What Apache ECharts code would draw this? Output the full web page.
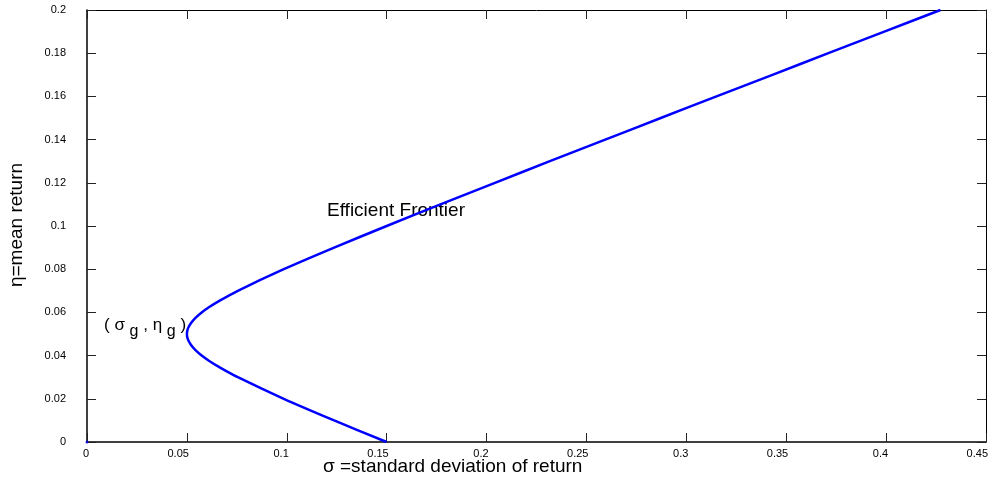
<!DOCTYPE html>
<html>
<head>
<meta charset="utf-8">
<script src="https://cdn.jsdelivr.net/npm/echarts@6/dist/echarts.min.js"></script>
<style>
  html, body { margin: 0; padding: 0; background: #fff; }
  #chart { width: 999px; height: 484px; }
</style>
</head>
<body>
<div id="chart"></div>
<script>
// Efficient frontier: standard deviation (sigma) vs. mean return (eta)
const etaValues = [0, 0.01, 0.02, 0.03, 0.035, 0.0375, 0.04, 0.0425, 0.045, 0.0475, 0.05,
  0.0525, 0.055, 0.0575, 0.06, 0.0625, 0.065, 0.07, 0.08, 0.09, 0.10, 0.11, 0.12, 0.13,
  0.14, 0.15, 0.16, 0.17, 0.18, 0.19, 0.20];
const sigmaValues = [0.150, 0.1237, 0.0985, 0.0755, 0.0656, 0.0612, 0.0574, 0.0543, 0.0520, 0.0505, 0.0500,
  0.0505, 0.0520, 0.0543, 0.0574, 0.0612, 0.0656, 0.0755, 0.0985, 0.1237, 0.150, 0.1769, 0.2042, 0.2317,
  0.2594, 0.2872, 0.3151, 0.3431, 0.3711, 0.3991, 0.4272];
const originPoint = [[0, 0]];

const xTicks = [0, 0.05, 0.1, 0.15, 0.2, 0.25, 0.3, 0.35, 0.4, 0.45];
const yTicks = [0, 0.02, 0.04, 0.06, 0.08, 0.1, 0.12, 0.14, 0.16, 0.18, 0.2];

const frontier = etaValues.map((e, i) => [sigmaValues[i], e]);

const font = 'Liberation Sans, Arial, sans-serif';
const chart = echarts.init(document.getElementById('chart'));

const fmt = v => String(+v.toFixed(2));

const baseX = {
  type: 'value', min: xTicks[0], max: xTicks[xTicks.length - 1], interval: 0.05,
  splitLine: { show: false },
  axisLine: { show: true, onZero: false, lineStyle: { color: '#000', width: 1.5 } },
  axisTick: { show: true, inside: true, length: 9, lineStyle: { color: '#222', width: 1 } }
};
const baseY = {
  type: 'value', min: yTicks[0], max: yTicks[yTicks.length - 1], interval: 0.02,
  splitLine: { show: false },
  axisLine: { show: true, onZero: false, lineStyle: { color: '#000', width: 1.5 } },
  axisTick: { show: true, inside: true, length: 9, lineStyle: { color: '#222', width: 1 } }
};

chart.setOption({
  animation: false,
  backgroundColor: '#fff',
  grid: { left: 87, right: 13, top: 10, bottom: 42, containLabel: false },
  xAxis: [
    Object.assign({}, baseX, {
      position: 'bottom',
      axisLabel: { show: true, color: '#000', fontFamily: font, fontSize: 11, margin: 6,
        align: 'right', padding: [0, -2, 0, 0], formatter: fmt }
    }),
    Object.assign({}, baseX, {
      position: 'top',
      axisLabel: { show: false },
      axisLine: { show: true, onZero: false, lineStyle: { color: '#000', width: 1 } }
    })
  ],
  yAxis: [
    Object.assign({}, baseY, {
      position: 'left',
      axisLabel: { show: true, color: '#000', fontFamily: font, fontSize: 11, margin: 21,
        formatter: fmt }
    }),
    Object.assign({}, baseY, {
      position: 'right',
      axisLabel: { show: false },
      axisLine: { show: true, onZero: false, lineStyle: { color: '#000', width: 1 } }
    })
  ],
  series: [
    {
      type: 'line',
      data: frontier,
      smooth: 0.3,
      showSymbol: false,
      lineStyle: { color: '#0000ff', width: 2.5 },
      xAxisIndex: 0, yAxisIndex: 0,
      z: 3
    },
    {
      type: 'scatter',
      data: originPoint,
      symbolSize: 3,
      itemStyle: { color: '#0000ff' },
      xAxisIndex: 0, yAxisIndex: 0
    }
  ],
  graphic: [
    {
      type: 'text', left: 323, top: 457,
      style: { text: 'σ =standard deviation of return', fontFamily: font, fontSize: 19, fill: '#000' }
    },
    {
      type: 'text', x: 17, y: 225, rotation: Math.PI / 2,
      style: { text: 'η=mean return', fontFamily: font, fontSize: 19, fill: '#000',
        align: 'center', verticalAlign: 'middle' }
    },
    {
      type: 'text', left: 327, top: 201,
      style: { text: 'Efficient Frontier', fontFamily: font, fontSize: 19, fill: '#000' }
    },
    {
      type: 'text', left: 104, top: 317,
      style: {
        text: '( σ {s|g} , η {s|g} )',
        fontFamily: font, fontSize: 17, fill: '#000',
        rich: { s: { fontFamily: font, fontSize: 16, fill: '#000', padding: [13, 0, 0, 0] } }
      }
    }
  ]
});
</script>
</body>
</html>
